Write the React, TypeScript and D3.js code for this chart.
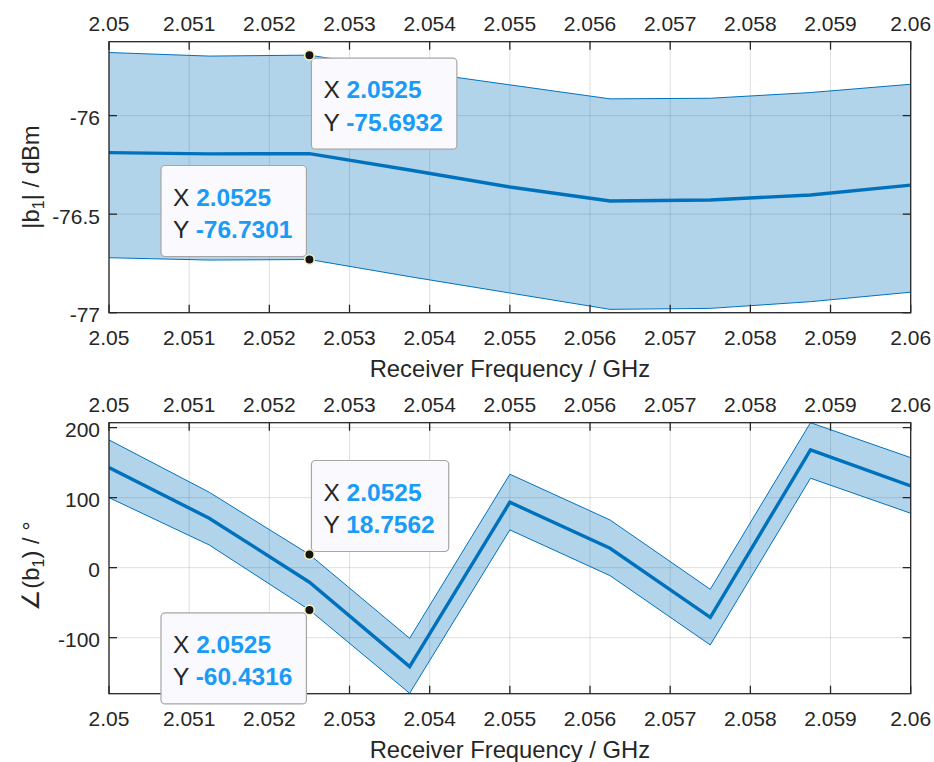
import { useEffect, useRef } from 'react';
import * as d3 from 'd3';

// receiver frequency sweep (GHz)
const freq = [2.05, 2.05125, 2.0525, 2.05375, 2.055, 2.05625, 2.0575, 2.05875, 2.06];

// |b1| in dBm: mean and confidence band
const magMean = [-76.188, -76.194, -76.193, -76.276, -76.362, -76.433, -76.428, -76.403, -76.353];
const magUpper = [-75.680, -75.698, -75.6932, -75.773, -75.844, -75.915, -75.912, -75.883, -75.841];
const magLower = [-76.721, -76.733, -76.7301, -76.817, -76.900, -76.983, -76.978, -76.944, -76.896];

// angle(b1) in degrees: mean and confidence band
const phaseMean = [142.9, 70.6, -20.8, -141.4, 93.4, 27.7, -70.9, 168.1, 116.7];
const phaseUpper = [182.4, 107.7, 18.7562, -100.9, 133.4, 68.1, -30.9, 207.0, 157.1];
const phaseLower = [100.0, 32.4, -60.4316, -179.4, 53.9, -11.4, -110.4, 127.7, 77.7];

const freqTicks = [2.05, 2.051, 2.052, 2.053, 2.054, 2.055, 2.056, 2.057, 2.058, 2.059, 2.06];
const magTicks = [-77, -76.5, -76];
const phaseTicks = [-100, 0, 100, 200];

// data tips: which band and which sample, and where the box sits
const magTips = [
  { band: 'upper', idx: 2, place: 'below-right' },
  { band: 'lower', idx: 2, place: 'above-left' },
];
const phaseTips = [
  { band: 'upper', idx: 2, place: 'above-right' },
  { band: 'lower', idx: 2, place: 'below-left' },
];

const FONT = '"Liberation Sans", Arial, Helvetica, sans-serif';
const INK = '#262626';
const BLUE = '#0072BD';

function drawPanel(svg, cfg) {
  const { top, bottom, yDomain, mean, upper, lower, yTicks, yLabel, tips, yLabelY } = cfg;
  const left = 109, right = 910.7;

  const x = d3.scaleLinear().domain([2.05, 2.06]).range([left, right]);
  const y = d3.scaleLinear().domain(yDomain).range([bottom, top]);

  const g = svg.append('g');
  const clipId = 'clip' + Math.round(top);
  g.append('clipPath').attr('id', clipId)
    .append('rect').attr('x', left).attr('y', top).attr('width', right - left).attr('height', bottom - top);

  // grid
  g.selectAll('.vgrid').data(freqTicks).enter().append('line')
    .attr('x1', d => x(d)).attr('x2', d => x(d)).attr('y1', top).attr('y2', bottom)
    .attr('stroke', INK).attr('stroke-opacity', 0.15).attr('stroke-width', 1);
  g.selectAll('.hgrid').data(yTicks).enter().append('line')
    .attr('x1', left).attr('x2', right).attr('y1', d => y(d)).attr('y2', d => y(d))
    .attr('stroke', INK).attr('stroke-opacity', 0.15).attr('stroke-width', 1);

  const plot = g.append('g').attr('clip-path', `url(#${clipId})`);
  const idx = d3.range(freq.length);

  const area = d3.area().x(i => x(freq[i])).y0(i => y(lower[i])).y1(i => y(upper[i]));
  plot.append('path').attr('d', area(idx)).attr('fill', BLUE).attr('fill-opacity', 0.3);

  const line = (arr) => d3.line().x(i => x(freq[i])).y(i => y(arr[i]))(idx);
  plot.append('path').attr('d', line(upper)).attr('fill', 'none').attr('stroke', BLUE).attr('stroke-width', 1);
  plot.append('path').attr('d', line(lower)).attr('fill', 'none').attr('stroke', BLUE).attr('stroke-width', 1);
  plot.append('path').attr('d', line(mean)).attr('fill', 'none').attr('stroke', BLUE).attr('stroke-width', 3.4);

  // axes box
  g.append('rect').attr('x', left).attr('y', top).attr('width', right - left).attr('height', bottom - top)
    .attr('fill', 'none').attr('stroke', INK).attr('stroke-width', 1.3);

  const tl = 8;
  freqTicks.forEach(t => {
    g.append('line').attr('x1', x(t)).attr('x2', x(t)).attr('y1', bottom).attr('y2', bottom - tl).attr('stroke', INK).attr('stroke-width', 1.3);
    g.append('line').attr('x1', x(t)).attr('x2', x(t)).attr('y1', top).attr('y2', top + tl).attr('stroke', INK).attr('stroke-width', 1.3);
    const lab = String(+t.toFixed(3));
    g.append('text').attr('x', x(t)).attr('y', bottom + 32.5).attr('text-anchor', 'middle')
      .attr('font-family', FONT).attr('font-size', 21).attr('fill', INK).text(lab);
    g.append('text').attr('x', x(t)).attr('y', top - 11).attr('text-anchor', 'middle')
      .attr('font-family', FONT).attr('font-size', 21).attr('fill', INK).text(lab);
  });
  yTicks.forEach(t => {
    g.append('line').attr('x1', left).attr('x2', left + tl).attr('y1', y(t)).attr('y2', y(t)).attr('stroke', INK).attr('stroke-width', 1.3);
    g.append('line').attr('x1', right).attr('x2', right - tl).attr('y1', y(t)).attr('y2', y(t)).attr('stroke', INK).attr('stroke-width', 1.3);
    g.append('text').attr('x', 100).attr('y', y(t) + 9.5).attr('text-anchor', 'end')
      .attr('font-family', FONT).attr('font-size', 21).attr('fill', INK).text(String(t));
  });

  // x label
  g.append('text').attr('x', (left + right) / 2).attr('y', bottom + 64).attr('text-anchor', 'middle')
    .attr('font-family', FONT).attr('font-size', 23.8).attr('fill', INK).text('Receiver Frequency / GHz');

  // y label with subscript
  const yl = g.append('text').attr('transform', `translate(39,${yLabelY}) rotate(-90)`)
    .attr('text-anchor', 'middle').attr('font-family', FONT).attr('font-size', 23.8).attr('fill', INK);
  yl.append('tspan').text(yLabel[0]);
  yl.append('tspan').attr('font-size', 16).attr('dy', 5).text('1');
  yl.append('tspan').attr('dy', -5).text(yLabel[1]);

  // data tips
  tips.forEach(tip => {
    const arr = tip.band === 'upper' ? upper : lower;
    const mx = x(freq[tip.idx]), my = y(arr[tip.idx]);
    const tg = g.append('g');
    const box = tg.append('rect').attr('rx', 4).attr('fill', '#f9f9fe').attr('stroke', '#a6a6a6').attr('stroke-width', 1.2);
    const t1 = tg.append('text').attr('font-family', FONT).attr('font-size', 24.5);
    t1.append('tspan').attr('fill', INK).text('X ');
    t1.append('tspan').attr('fill', '#1a9bf5').attr('font-weight', 'bold').text(freq[tip.idx].toFixed(4));
    const t2 = tg.append('text').attr('font-family', FONT).attr('font-size', 24.5);
    t2.append('tspan').attr('fill', INK).text('Y ');
    t2.append('tspan').attr('fill', '#1a9bf5').attr('font-weight', 'bold').text(arr[tip.idx].toFixed(4));

    const w = Math.max(t1.node().getComputedTextLength(), t2.node().getComputedTextLength()) + 26;
    const h = 91;
    const bx = tip.place.endsWith('right') ? mx + 2 : mx - 3 - w;
    const by = tip.place.startsWith('below') ? my + 3 : my - 3 - h;
    box.attr('x', bx).attr('y', by).attr('width', w).attr('height', h);
    t1.attr('x', bx + 12).attr('y', by + 40);
    t2.attr('x', bx + 12).attr('y', by + 72.5);

    g.append('circle').attr('cx', mx).attr('cy', my).attr('r', 4.8)
      .attr('fill', '#141414').attr('stroke', '#f4efc4').attr('stroke-width', 1.6);
  });
}

export default function App() {
  const ref = useRef(null);

  useEffect(() => {
    const svg = d3.select(ref.current);
    svg.selectAll('*').remove();
    svg.append('rect').attr('width', 934).attr('height', 762).attr('fill', '#ffffff');

    drawPanel(svg, {
      top: 41.7, bottom: 312.7, yDomain: [-77, -75.625],
      mean: magMean, upper: magUpper, lower: magLower,
      yTicks: magTicks, yLabel: ['|b', '| / dBm'], tips: magTips, yLabelY: 177,
    });
    drawPanel(svg, {
      top: 422.7, bottom: 693.7, yDomain: [-180, 207],
      mean: phaseMean, upper: phaseUpper, lower: phaseLower,
      yTicks: phaseTicks, yLabel: ['∠(b', ') / °'], tips: phaseTips, yLabelY: 566,
    });
  }, []);

  return (
    <svg ref={ref} width={934} height={762} style={{ position: 'absolute', left: 0, top: 0 }} />
  );
}
